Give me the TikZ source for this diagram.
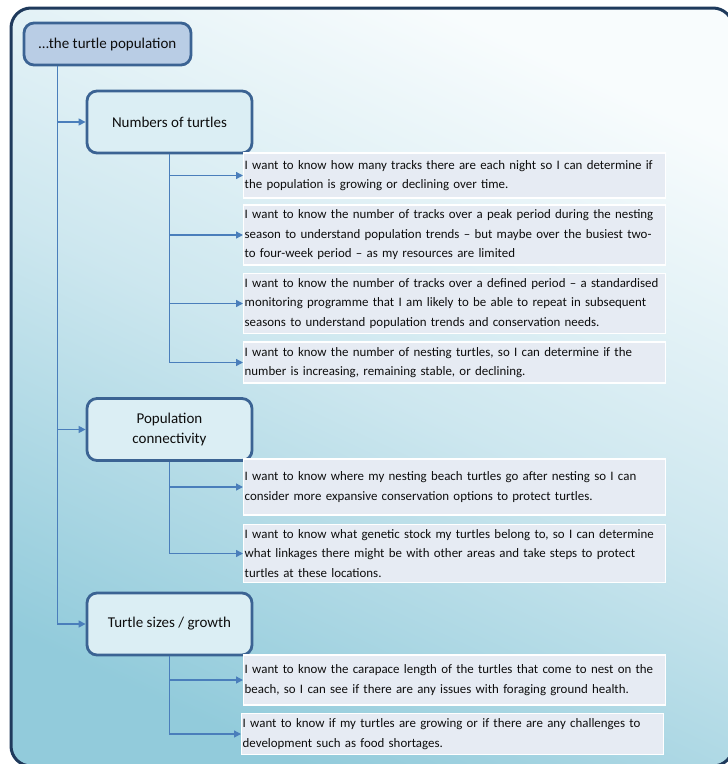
\documentclass[tikz,border=0pt]{standalone}
\usepackage{fontspec}
\setmainfont{Carlito}
\usepackage{xcolor}
\usepackage{tikz}
\usetikzlibrary{arrows.meta,calc,positioning}
\definecolor{framenavy}{HTML}{1F3A5C}
\definecolor{boxedge}{HTML}{3B6393}
\definecolor{rootfill}{HTML}{B9CDE5}
\definecolor{catfill}{HTML}{DBEEF4}
\definecolor{needfill}{HTML}{E6EBF3}
\definecolor{linkblue}{HTML}{4A7EBB}
\definecolor{skytop}{HTML}{F8FCFD}
\definecolor{skymid}{HTML}{CDE7EF}
\definecolor{skybot}{HTML}{92CBDB}
\definecolor{ink}{HTML}{0D0D0D}
\tikzset{
  link/.style={-{Triangle[length=7pt,width=7pt]},line width=1.4pt,draw=linkblue},
  base/.style={draw=boxedge,line width=2.8pt,rounded corners=10pt,align=center,
               font=\fontsize{15}{20}\selectfont,text=ink,inner sep=3pt},
  topic/.style={base,fill=rootfill,minimum width=167pt,minimum height=42pt},
  theme/.style={base,fill=catfill,minimum width=165pt,minimum height=62pt},
  need/.style={draw=white,line width=1.4pt,fill=needfill,align=left,anchor=west,
               text width=420pt,inner xsep=1pt,inner ysep=5pt,
               font=\fontsize{12.9}{19.5}\selectfont,text=ink}
}

\begin{document}
\begin{tikzpicture}[x=1pt,y=-1pt]
  \useasboundingbox (0,0) rectangle (728,764);
  \clip (0,0) rectangle (728,764);
  \shade[rounded corners=20pt,top color=skytop,bottom color=skybot,middle color=skymid,shading angle=-25]
    (11,8) rectangle (733,766);
  \draw[framenavy,line width=3pt,rounded corners=20pt] (11,8) rectangle (733,766);

  \node[topic] (root) at (107.5,44) {…the turtle population};
  \node[theme] (numbers) at (169.5,122) {Numbers of turtles};
  \node[theme] (connect) at (169.5,429.5) {Population\\connectivity};
  \node[theme] (sizes) at (169.5,624) {Turtle sizes / growth};

  \node[need,minimum height=45pt] (nightly) at (243,175.5) {I want to know how many tracks there are each night so I can determine if\\the population is growing or declining over time.};
  \node[need] (peak) at (243,235) {I want to know the number of tracks over a peak period during the nesting\\season to understand population trends -- but maybe over the busiest two-\\to four-week period -- as my resources are limited};
  \node[need] (defined) at (243,303.5) {I want to know the number of tracks over a defined period -- a standardised\\monitoring programme that I am likely to be able to repeat in subsequent\\seasons to understand population trends and conservation needs.};
  \node[need] (nesters) at (243,362.5) {I want to know the number of nesting turtles, so I can determine if the\\number is increasing, remaining stable, or declining.};
  \node[need,minimum height=56pt] (migrate) at (243,487) {I want to know where my nesting beach turtles go after nesting so I can\\consider more expansive conservation options to protect turtles.};
  \node[need] (stock) at (243,553.5) {I want to know what genetic stock my turtles belong to, so I can determine\\what linkages there might be with other areas and take steps to protect\\turtles at these locations.};
  \node[need,minimum height=50pt] (carapace) at (243,680) {I want to know the carapace length of the turtles that come to nest on the\\beach, so I can see if there are any issues with foraging ground health.};
  \node[need] (growing) at (241,734) {I want to know if my turtles are growing or if there are any challenges to\\development such as food shortages.};

  \coordinate (rootdrop) at ($(root.south west)+(35,0)$);
  \foreach \t in {numbers,connect,sizes} \draw[link] (rootdrop) |- (\t.west);
  \foreach \n in {nightly,peak,defined,nesters} \draw[link] (numbers.south) |- (\n.west);
  \foreach \n in {migrate,stock} \draw[link] (connect.south) |- (\n.west);
  \foreach \n in {carapace,growing} \draw[link] (sizes.south) |- (\n.west);
\end{tikzpicture}
\end{document}
